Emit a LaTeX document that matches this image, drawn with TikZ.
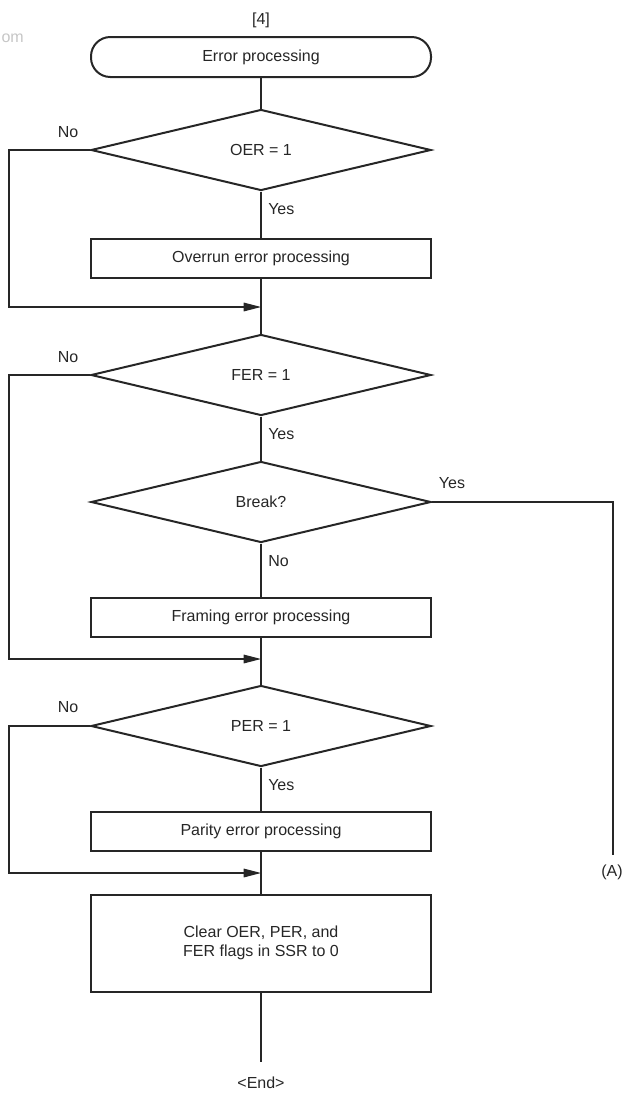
\documentclass[tikz,border=0pt]{standalone}
\usepackage{fontspec}
\setmainfont{Liberation Sans}
\usetikzlibrary{shapes.geometric,arrows.meta}
\definecolor{ink}{HTML}{262626}
\tikzset{
  every node/.style={font=\fontsize{12}{14}\selectfont, text=ink},
  boxstyle/.style={draw=ink, line width=1.5pt, rectangle, minimum width=255pt, minimum height=29.25pt, inner sep=0pt},
  termstyle/.style={draw=ink, line width=1.5pt, rectangle, rounded corners=14.5pt, minimum width=255pt, minimum height=30pt, inner sep=0pt},
  decstyle/.style={draw=ink, line width=1.5pt, diamond, aspect=4, inner sep=0pt, minimum width=255pt, minimum height=60.75pt},
  conn/.style={draw=ink, line width=0.8pt},
  arr/.style={conn, -{Triangle[length=13pt,width=6.5pt]}},
  lbl/.style={inner sep=0pt}
}
\begin{document}
\begin{tikzpicture}[x=0.75pt,y=-0.75pt]
\useasboundingbox (0,0) rectangle (627,1093);
% watermark remnant
\node[lbl, anchor=east, text=gray!45] (wm) at (24,38) {om};
\node[lbl] (t4) at (261,20) {[4]};
\node[termstyle] (start) at (261,57) {Error processing};
\node[decstyle] (d1) at (261,150) {OER = 1};
\node[boxstyle] (b1) at (261,258) {Overrun error processing};
\coordinate (c1) at (261,307);
\node[decstyle] (d2) at (261,375) {FER = 1};
\node[decstyle] (d3) at (261,502) {Break?};
\node[boxstyle] (b2) at (261,617) {Framing error processing};
\coordinate (c2) at (261,659);
\node[decstyle] (d4) at (261,726) {PER = 1};
\node[boxstyle] (b3) at (261,831) {Parity error processing};
\coordinate (c3) at (261,873);
\node[boxstyle, minimum height=72.75pt, align=center] (b4) at (261,943) {Clear OER, PER, and\\FER flags in SSR to 0};
\coordinate (endc) at (261,1062);
\node[lbl] (endl) at (261,1083) {<End>};
\coordinate (x9) at (9,0);
\coordinate (aend) at (613,855);
\node[lbl] (alab) at (612,872) {(A)};
% labels
\node[lbl] (no1) at (68,132) {No};
\node[lbl] (no2) at (68,357) {No};
\node[lbl] (no4) at (68,707) {No};
\node[lbl, anchor=west] (yes1) at (268,209) {Yes};
\node[lbl, anchor=west] (yes2) at (268,434) {Yes};
\node[lbl, anchor=west] (no3) at (268,561) {No};
\node[lbl, anchor=west] (yes4) at (268,785) {Yes};
\node[lbl] (yes3) at (452,483) {Yes};
% connectors
\draw[conn] (start.south) -- (d1.north);
\draw[conn] (d1.south) -- (b1.north);
\draw[conn] (b1.south) -- (d2.north);
\draw[arr] (d1.west) -- (d1.west -| x9) |- (c1);
\draw[conn] (d2.south) -- (d3.north);
\draw[conn] (d3.south) -- (b2.north);
\draw[conn] (d3.east) -| (aend);
\draw[conn] (b2.south) -- (d4.north);
\draw[arr] (d2.west) -- (d2.west -| x9) |- (c2);
\draw[conn] (d4.south) -- (b3.north);
\draw[conn] (b3.south) -- (b4.north);
\draw[arr] (d4.west) -- (d4.west -| x9) |- (c3);
\draw[conn] (b4.south) -- (endc);
\end{tikzpicture}
\end{document}
